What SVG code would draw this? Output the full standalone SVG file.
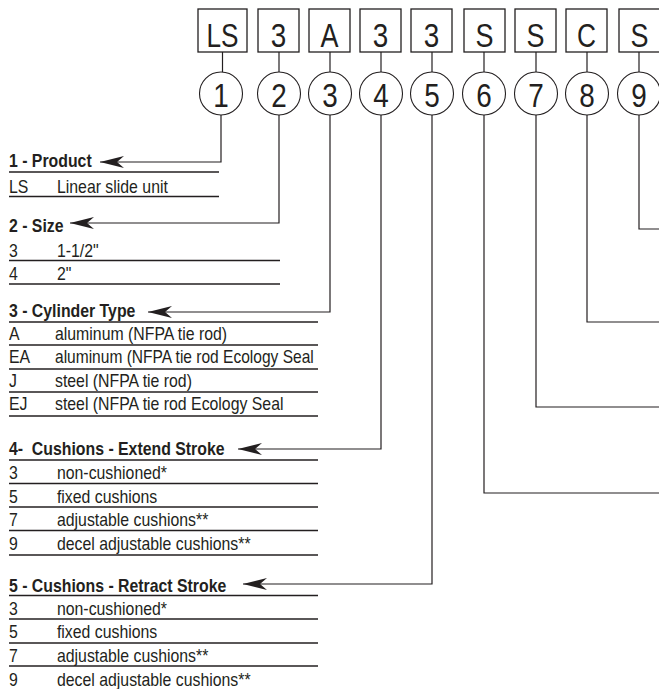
<svg xmlns="http://www.w3.org/2000/svg" width="659" height="689" viewBox="0 0 659 689">
<style>
text{font-family:"Liberation Sans",Arial,sans-serif;fill:#231f20}
.big{font-size:34px;text-anchor:middle}
.h{font-size:17.6px;font-weight:bold;white-space:pre;transform:scale(0.9,1)}
.r{font-size:17.6px;transform:scale(0.9,1)}
.box{fill:#fff;stroke:#231f20;stroke-width:1.3}
.circ{fill:#fff;stroke:#231f20;stroke-width:1.1}
.ln{fill:none;stroke:#231f20;stroke-width:1.2}
.rule{stroke:#231f20;stroke-width:1.4}
</style>
<defs>
<marker id="ah" markerUnits="userSpaceOnUse" viewBox="0 0 24 12" refX="24" refY="6" markerWidth="24" markerHeight="12" orient="auto">
<path d="M0,0 L24,6 L0,12 L7,6 Z" fill="#231f20"/>
</marker>
</defs>
<g id="connectors">
<line class="ln" x1="222.5" y1="52" x2="222.5" y2="72"/>
<line class="ln" x1="279" y1="52" x2="279" y2="72"/>
<line class="ln" x1="330" y1="52" x2="330" y2="72"/>
<line class="ln" x1="381" y1="52" x2="381" y2="72"/>
<line class="ln" x1="432" y1="52" x2="432" y2="72"/>
<line class="ln" x1="484" y1="52" x2="484" y2="72"/>
<line class="ln" x1="536" y1="52" x2="536" y2="72"/>
<line class="ln" x1="587" y1="52" x2="587" y2="72"/>
<line class="ln" x1="639" y1="52" x2="639" y2="72"/>
<polyline class="ln" points="221,115 221,162 100,162" marker-end="url(#ah)"/>
<polyline class="ln" points="279,115 279,223 70,223" marker-end="url(#ah)"/>
<polyline class="ln" points="330,115 330,312 148,312" marker-end="url(#ah)"/>
<polyline class="ln" points="381,115 381,449 238,449" marker-end="url(#ah)"/>
<polyline class="ln" points="432,115 432,584 243,584" marker-end="url(#ah)"/>
<polyline class="ln" points="484,115 484,493 660,493"/>
<polyline class="ln" points="536,115 536,407 660,407"/>
<polyline class="ln" points="587,115 587,322 660,322"/>
<polyline class="ln" points="639,115 639,229 660,229"/>
</g>
<g id="box1"><rect class="box" x="198" y="9" width="49" height="43"/><text class="big" x="222.5" y="47" textLength="32" lengthAdjust="spacingAndGlyphs">LS</text></g>
<g id="box2"><rect class="box" x="258" y="9" width="41" height="43"/><text class="big" x="278.5" y="47" textLength="15.5" lengthAdjust="spacingAndGlyphs">3</text></g>
<g id="box3"><rect class="box" x="309" y="9" width="41" height="43"/><text class="big" x="329.5" y="47" textLength="18" lengthAdjust="spacingAndGlyphs">A</text></g>
<g id="box4"><rect class="box" x="360" y="9" width="41" height="43"/><text class="big" x="380.5" y="47" textLength="15.5" lengthAdjust="spacingAndGlyphs">3</text></g>
<g id="box5"><rect class="box" x="411" y="9" width="41" height="43"/><text class="big" x="431.5" y="47" textLength="15.5" lengthAdjust="spacingAndGlyphs">3</text></g>
<g id="box6"><rect class="box" x="464" y="9" width="41" height="43"/><text class="big" x="484.5" y="47" textLength="18" lengthAdjust="spacingAndGlyphs">S</text></g>
<g id="box7"><rect class="box" x="515" y="9" width="41" height="43"/><text class="big" x="535.5" y="47" textLength="18" lengthAdjust="spacingAndGlyphs">S</text></g>
<g id="box8"><rect class="box" x="566" y="9" width="41" height="43"/><text class="big" x="586.5" y="47" textLength="19" lengthAdjust="spacingAndGlyphs">C</text></g>
<g id="box9"><rect class="box" x="619" y="9" width="41" height="43"/><text class="big" x="639.5" y="47" textLength="18" lengthAdjust="spacingAndGlyphs">S</text></g>
<g id="c1"><circle class="circ" cx="221" cy="93.5" r="21.5"/><text class="big" x="221" y="106.5" textLength="15.5" lengthAdjust="spacingAndGlyphs">1</text></g>
<g id="c2"><circle class="circ" cx="279" cy="93.5" r="21.5"/><text class="big" x="279" y="106.5" textLength="15.5" lengthAdjust="spacingAndGlyphs">2</text></g>
<g id="c3"><circle class="circ" cx="330" cy="93.5" r="21.5"/><text class="big" x="330" y="106.5" textLength="15.5" lengthAdjust="spacingAndGlyphs">3</text></g>
<g id="c4"><circle class="circ" cx="381" cy="93.5" r="21.5"/><text class="big" x="381" y="106.5" textLength="15.5" lengthAdjust="spacingAndGlyphs">4</text></g>
<g id="c5"><circle class="circ" cx="432" cy="93.5" r="21.5"/><text class="big" x="432" y="106.5" textLength="15.5" lengthAdjust="spacingAndGlyphs">5</text></g>
<g id="c6"><circle class="circ" cx="484" cy="93.5" r="21.5"/><text class="big" x="484" y="106.5" textLength="15.5" lengthAdjust="spacingAndGlyphs">6</text></g>
<g id="c7"><circle class="circ" cx="536" cy="93.5" r="21.5"/><text class="big" x="536" y="106.5" textLength="15.5" lengthAdjust="spacingAndGlyphs">7</text></g>
<g id="c8"><circle class="circ" cx="587" cy="93.5" r="21.5"/><text class="big" x="587" y="106.5" textLength="15.5" lengthAdjust="spacingAndGlyphs">8</text></g>
<g id="c9"><circle class="circ" cx="639" cy="93.5" r="21.5"/><text class="big" x="639" y="106.5" textLength="15.5" lengthAdjust="spacingAndGlyphs">9</text></g>
<g id="sec1">
<text class="h" x="10" y="167">1 - Product</text>
<line class="rule" x1="9" y1="172" x2="219" y2="172"/>
<text class="r" x="10" y="193">LS</text><text class="r" x="63.3" y="193">Linear slide unit</text>
<line class="rule" x1="9" y1="196.5" x2="219" y2="196.5"/>
</g>
<g id="sec2">
<text class="h" x="10" y="232">2 - Size</text>
<text class="r" x="10" y="257">3</text><text class="r" x="63.3" y="257">1-1/2"</text>
<line class="rule" x1="9" y1="260.5" x2="280" y2="260.5"/>
<text class="r" x="10" y="280.5">4</text><text class="r" x="63.3" y="280.5">2"</text>
<line class="rule" x1="9" y1="284" x2="280" y2="284"/>
</g>
<g id="sec3">
<text class="h" x="10" y="317">3 - Cylinder Type</text>
<line class="rule" x1="9" y1="322" x2="318" y2="322"/>
<text class="r" x="10" y="340">A</text><text class="r" x="61.1" y="340">aluminum (NFPA tie rod)</text>
<line class="rule" x1="9" y1="345" x2="318" y2="345"/>
<text class="r" x="10" y="363.5">EA</text><text class="r" x="61.1" y="363.5" textLength="287.5" lengthAdjust="spacingAndGlyphs">aluminum (NFPA tie rod Ecology Seal</text>
<line class="rule" x1="9" y1="369" x2="318" y2="369"/>
<text class="r" x="10" y="387">J</text><text class="r" x="61.1" y="387">steel (NFPA tie rod)</text>
<line class="rule" x1="9" y1="392" x2="318" y2="392"/>
<text class="r" x="10" y="410.5">EJ</text><text class="r" x="61.1" y="410.5">steel (NFPA tie rod Ecology Seal</text>
<line class="rule" x1="9" y1="416" x2="318" y2="416"/>
</g>
<g id="sec4">
<text class="h" x="10" y="455">4-  Cushions - Extend Stroke</text>
<line class="rule" x1="9" y1="460" x2="318" y2="460"/>
<text class="r" x="10" y="479">3</text><text class="r" x="63.3" y="479">non-cushioned*</text>
<line class="rule" x1="9" y1="483.5" x2="318" y2="483.5"/>
<text class="r" x="10" y="503">5</text><text class="r" x="63.3" y="503">fixed cushions</text>
<line class="rule" x1="9" y1="507" x2="318" y2="507"/>
<text class="r" x="10" y="526.5">7</text><text class="r" x="63.3" y="526.5">adjustable cushions**</text>
<line class="rule" x1="9" y1="530.5" x2="318" y2="530.5"/>
<text class="r" x="10" y="550">9</text><text class="r" x="63.3" y="550">decel adjustable cushions**</text>
<line class="rule" x1="9" y1="555" x2="318" y2="555"/>
</g>
<g id="sec5">
<text class="h" x="10" y="592">5 - Cushions - Retract Stroke</text>
<line class="rule" x1="9" y1="595.5" x2="318" y2="595.5"/>
<text class="r" x="10" y="615">3</text><text class="r" x="63.3" y="615">non-cushioned*</text>
<line class="rule" x1="9" y1="619" x2="318" y2="619"/>
<text class="r" x="10" y="638.5">5</text><text class="r" x="63.3" y="638.5">fixed cushions</text>
<line class="rule" x1="9" y1="643" x2="318" y2="643"/>
<text class="r" x="10" y="662">7</text><text class="r" x="63.3" y="662">adjustable cushions**</text>
<line class="rule" x1="9" y1="666" x2="318" y2="666"/>
<text class="r" x="10" y="686">9</text><text class="r" x="63.3" y="686">decel adjustable cushions**</text>
</g>
</svg>
